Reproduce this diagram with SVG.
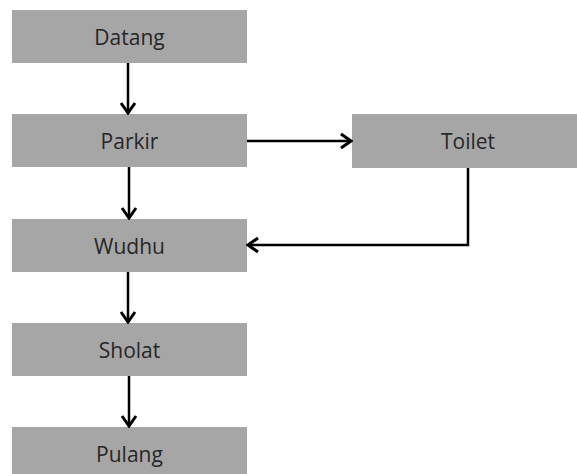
<svg xmlns="http://www.w3.org/2000/svg" width="577" height="474" viewBox="0 0 577 474">
<style>
.box{fill:#a6a6a6}
.lbl{font-family:"Open Sans","Liberation Sans",sans-serif;font-size:21px;fill:#262626;text-anchor:middle}
.conn{fill:none;stroke:#000;stroke-width:2.5;marker-end:url(#arr)}
</style>
<defs>
<marker id="arr" markerUnits="userSpaceOnUse" viewBox="-12 -9 14 18" refX="0" refY="0" markerWidth="14" markerHeight="18" orient="auto">
<path d="M-10,-7 L0,0 L-10,7" fill="none" stroke="#000" stroke-width="3"/>
</marker>
</defs>
<rect width="577" height="474" fill="#fff"/>
<g id="datang"><rect class="box" x="12" y="10" width="235" height="53"/><text class="lbl" x="129.5" y="44.5">Datang</text></g>
<g id="parkir"><rect class="box" x="12" y="114" width="235" height="53"/><text class="lbl" x="129.5" y="148.5">Parkir</text></g>
<g id="toilet"><rect class="box" x="352" y="114" width="225" height="54"/><text class="lbl" x="468" y="148.5">Toilet</text></g>
<g id="wudhu"><rect class="box" x="12" y="219" width="235" height="53"/><text class="lbl" x="129.5" y="253.5">Wudhu</text></g>
<g id="sholat"><rect class="box" x="12" y="323" width="235" height="53"/><text class="lbl" x="129.5" y="357.5">Sholat</text></g>
<g id="pulang"><rect class="box" x="12" y="427" width="235" height="53"/><text class="lbl" x="129.5" y="461.5">Pulang</text></g>
<g id="connectors">
<path class="conn" d="M128,63 L128,113"/>
<path class="conn" d="M129,167 L129,218"/>
<path class="conn" d="M128,272 L128,322"/>
<path class="conn" d="M129,376 L129,426"/>
<path class="conn" d="M247,141 L351,141"/>
<path class="conn" d="M468,168 L468,245 L248,245"/>
</g>
</svg>
